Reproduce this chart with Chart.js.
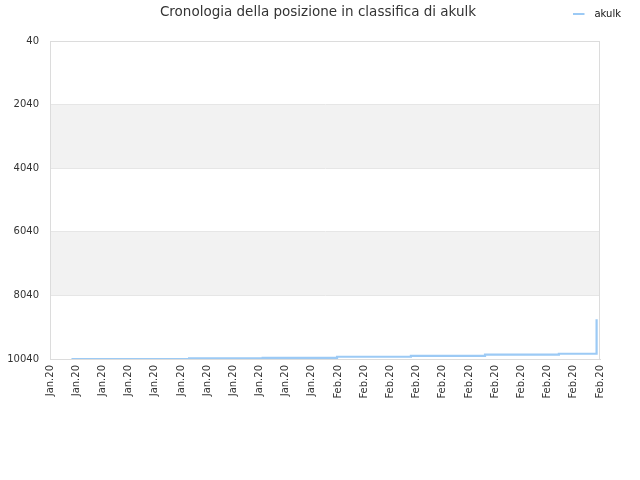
<!DOCTYPE html>
<html>
<head>
<meta charset="utf-8">
<title>Cronologia della posizione in classifica di akulk</title>
<script src="https://cdn.jsdelivr.net/npm/chart.js@4/dist/chart.umd.min.js"></script>
<style>
  html, body { margin: 0; padding: 0; background: #fff; }
  canvas { display: block; }
</style>
</head>
<body>
<canvas id="rankChart" width="640" height="480"></canvas>
<script>
// chart title and series name
const chartTitle = 'Cronologia della posizione in classifica di akulk';
const seriesName = 'akulk';

// x tick labels, one per tick (index = position on the x axis)
const xLabels = [
    'Jan.20', 'Jan.20', 'Jan.20', 'Jan.20', 'Jan.20', 'Jan.20', 'Jan.20', 'Jan.20', 'Jan.20', 'Jan.20', 'Jan.20',
    'Feb.20', 'Feb.20', 'Feb.20', 'Feb.20', 'Feb.20', 'Feb.20', 'Feb.20', 'Feb.20', 'Feb.20', 'Feb.20', 'Feb.20'
];

// y tick values (rank, reversed axis)
const rankTicks = [40, 2040, 4040, 6040, 8040, 10040];

// rank history: position along the x axis and rank at that point
const positionX = [0.82, 5.31, 8.12, 10.96, 13.78, 16.61, 19.43, 20.87];
const positionRank = [10040, 10020, 10005, 9970, 9940, 9905, 9875, 8790];

const lineColor = '#9ccaf5';
const textColor = '#333333';
const fontFamily = '"DejaVu Sans", sans-serif';

/**
 * Small legend marker: a short line with empty space to its right.
 */
let legendMarker = document.createElement('canvas');
legendMarker.width = 16;
legendMarker.height = 4;
let lm = legendMarker.getContext('2d');
lm.fillStyle = lineColor;
lm.fillRect(0, 1, 11, 2);

/**
 * Background bands, border and title.
 */
const decorations = {
    id: 'decorations',
    beforeInit(chart) {
        // keep the legend row tall enough so the plot starts lower
        let fit = chart.legend.fit;
        chart.legend.fit = function () {
            fit.call(this);
            this.height = 41;
        };
    },
    beforeDraw(chart) {
        let c = chart.ctx;
        let area = chart.chartArea;
        let y = chart.scales.y;
        c.save();
        c.fillStyle = '#f2f2f2';
        for (let i = 1; i + 1 < rankTicks.length; i += 2) {
            let top = y.getPixelForValue(rankTicks[i]);
            let bottom = y.getPixelForValue(rankTicks[i + 1]);
            c.fillRect(area.left, top, area.right - area.left, bottom - top);
        }
        c.restore();
    },
    afterDraw(chart) {
        let c = chart.ctx;
        let area = chart.chartArea;
        c.save();
        c.strokeStyle = '#dcdcdc';
        c.lineWidth = 1;
        c.strokeRect(area.left + 0.5, area.top + 0.5, area.right - area.left - 1, area.bottom - area.top);
        c.fillStyle = textColor;
        c.font = '13.5px ' + fontFamily;
        c.textAlign = 'center';
        c.textBaseline = 'middle';
        c.fillText(chartTitle, 318, 12);
        c.restore();
    }
};

let ctx = document.getElementById('rankChart').getContext('2d');

let rankChart = new Chart(ctx, {
    type: 'line',
    data: {
        datasets: [{
            label: seriesName,
            data: positionX.map((x, i) => ({ x: x, y: positionRank[i] })),
            borderColor: lineColor,
            backgroundColor: lineColor,
            borderWidth: 2.2,
            pointRadius: 0,
            stepped: true,
            fill: false
        }]
    },
    options: {
        responsive: false,
        animation: false,
        layout: {
            padding: { top: 0, right: 10, bottom: 0, left: 0 }
        },
        plugins: {
            title: { display: false },
            tooltip: { enabled: false },
            legend: {
                position: 'top',
                align: 'end',
                labels: {
                    usePointStyle: true,
                    pointStyle: legendMarker,
                    pointStyleWidth: 16,
                    color: '#111111',
                    font: { family: fontFamily, size: 10 },
                    padding: 9
                }
            }
        },
        scales: {
            x: {
                type: 'linear',
                min: 0,
                max: xLabels.length - 1,
                afterBuildTicks(scale) {
                    scale.ticks = xLabels.map((_, i) => ({ value: i }));
                },
                afterFit(scale) {
                    scale.height = 121;
                },
                ticks: {
                    autoSkip: false,
                    maxRotation: 90,
                    minRotation: 90,
                    padding: 6,
                    color: textColor,
                    font: { family: fontFamily, size: 10 },
                    callback: (value) => xLabels[value]
                },
                grid: { display: false, drawTicks: false },
                border: { display: true, color: '#dcdcdc' }
            },
            y: {
                reverse: true,
                min: rankTicks[0],
                max: rankTicks[rankTicks.length - 1],
                afterBuildTicks(scale) {
                    scale.ticks = rankTicks.map(v => ({ value: v }));
                },
                afterFit(scale) {
                    scale.width = 50;
                },
                ticks: {
                    padding: 11,
                    color: textColor,
                    font: { family: fontFamily, size: 10 },
                    callback: (value) => String(value)
                },
                grid: { color: '#e6e6e6', drawTicks: false },
                border: { display: true, color: '#dcdcdc' }
            },
            // empty axis on the right, only keeps space between plot and edge
            yRight: {
                position: 'right',
                display: true,
                afterFit(scale) {
                    scale.width = 30;
                },
                ticks: { display: false },
                grid: { display: false, drawTicks: false },
                border: { display: false }
            }
        }
    },
    plugins: [decorations]
});
</script>
</body>
</html>
